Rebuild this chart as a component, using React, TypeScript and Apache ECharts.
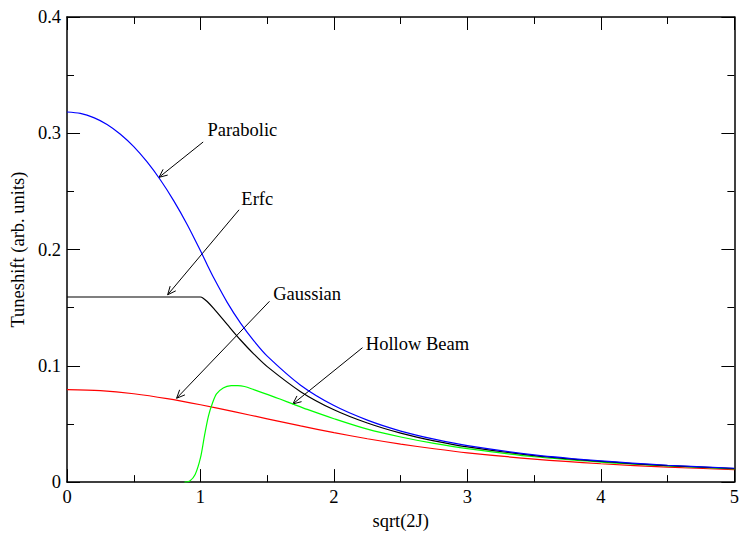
import React, { useEffect, useRef } from "react";
import * as echarts from "echarts";

// ---- data (x = sqrt(2J), y = tuneshift) ----
const xTickValues = [0, 1, 2, 3, 4, 5];
const yTickValues = [0, 0.1, 0.2, 0.3, 0.4];

const parabolic: [number, number][] = [
  [0, 0.3183], [0.1, 0.3171], [0.2, 0.3135], [0.3, 0.3076], [0.4, 0.2992],
  [0.5, 0.2885], [0.6, 0.2753], [0.7, 0.2598], [0.8, 0.2419], [0.9, 0.2216],
  [1.0, 0.1989], [1.05, 0.187], [1.1, 0.1755], [1.2, 0.1546], [1.3, 0.1367],
  [1.4, 0.1214], [1.5, 0.1083], [1.75, 0.0833], [2.0, 0.0658], [2.25, 0.0533],
  [2.5, 0.0439], [2.75, 0.0369], [3.0, 0.0313], [3.5, 0.0234], [4.0, 0.0182],
  [4.5, 0.0145], [5.0, 0.0119],
];

const erfc: [number, number][] = [
  [0, 0.1592], [0.5, 0.1592], [0.9, 0.1592], [1.0, 0.1592], [1.02, 0.1582],
  [1.05, 0.1553], [1.1, 0.1492], [1.2, 0.1356], [1.3, 0.1222], [1.4, 0.1101],
  [1.5, 0.0993], [1.75, 0.0778], [2.0, 0.0622], [2.25, 0.0508], [2.5, 0.0421],
  [2.75, 0.0355], [3.0, 0.0303], [3.5, 0.0228], [4.0, 0.0178], [4.5, 0.0142],
  [5.0, 0.0117],
];

const gaussian: [number, number][] = [
  [0, 0.0796], [0.25, 0.0787], [0.5, 0.076], [0.75, 0.0718], [1.0, 0.0665],
  [1.25, 0.0606], [1.5, 0.0544], [1.75, 0.0483], [2.0, 0.0425], [2.25, 0.0373],
  [2.5, 0.0327], [2.75, 0.0287], [3.0, 0.0252], [3.5, 0.0198], [4.0, 0.0158],
  [4.5, 0.0129], [5.0, 0.0107],
];

const hollowBeam: [number, number][] = [
  [0.88, 0], [0.92, 0.001], [0.96, 0.0065], [1.0, 0.021], [1.03, 0.04],
  [1.06, 0.057], [1.09, 0.068], [1.12, 0.0758], [1.17, 0.081], [1.23, 0.0829],
  [1.28, 0.083], [1.33, 0.0822], [1.4, 0.0795], [1.5, 0.0755], [1.6, 0.0712],
  [1.7, 0.0668], [1.8, 0.0625], [2.0, 0.0545], [2.25, 0.0455], [2.5, 0.0388],
  [2.75, 0.0333], [3.0, 0.0288], [3.5, 0.0218], [4.0, 0.0172], [4.5, 0.0139],
  [5.0, 0.0114],
];

// annotations: label anchor, arrow start, arrow tip (data coordinates)
const annotationLabels = ["Parabolic", "Erfc", "Gaussian", "Hollow Beam"];
const annotationTextAt: [number, number][] = [[1.052, 0.3025], [1.306, 0.2436], [1.545, 0.1617], [2.239, 0.1184]];
const annotationFrom: [number, number][] = [[1.02, 0.2925], [1.289, 0.2342], [1.517, 0.1555], [2.214, 0.1156]];
const annotationTo: [number, number][] = [[0.689, 0.2621], [0.754, 0.1611], [0.821, 0.0721], [1.692, 0.0672]];

const FONT = '"Liberation Serif", "Times New Roman", Times, serif';
const FS = 18.5;

export default function App() {
  const ref = useRef<HTMLDivElement>(null);

  useEffect(() => {
    if (!ref.current) return;
    const chart = echarts.init(ref.current, null, { renderer: "svg" });

    const axisCommon = {
      min: 0,
      axisLine: { show: true, onZero: false, lineStyle: { color: "#000", width: 1.5 } },
      axisTick: { show: true, inside: true, length: 13, lineStyle: { color: "#000", width: 1 } },
      minorTick: { show: true, splitNumber: 2, length: 7, lineStyle: { color: "#000", width: 1 } },
      splitLine: { show: false },
      minorSplitLine: { show: false },
    };

    const lineSeries = (name: string, data: [number, number][], color: string) => ({
      name,
      type: "line",
      data,
      showSymbol: false,
      smooth: 0.3,
      lineStyle: { color, width: 1.2 },
      itemStyle: { color },
      xAxisIndex: 0,
      yAxisIndex: 0,
    });

    chart.setOption({
      animation: false,
      backgroundColor: "#fff",
      grid: { left: 65, right: 7, top: 17, bottom: 49, containLabel: false },
      xAxis: [
        {
          ...axisCommon,
          type: "value",
          position: "bottom",
          max: xTickValues[xTickValues.length - 1],
          interval: 1,
          name: "sqrt(2J)",
          nameLocation: "middle",
          nameGap: 22,
          nameTextStyle: { color: "#000", fontSize: FS, fontFamily: FONT },
          axisLabel: { color: "#000", fontSize: FS, fontFamily: FONT, margin: 5 },
        },
        {
          ...axisCommon,
          type: "value",
          position: "top",
          max: xTickValues[xTickValues.length - 1],
          interval: 1,
          axisLabel: { show: false },
        },
      ],
      yAxis: [
        {
          ...axisCommon,
          type: "value",
          position: "left",
          max: yTickValues[yTickValues.length - 1],
          interval: 0.1,
          name: "Tuneshift (arb. units)",
          nameLocation: "middle",
          nameGap: 35,
          nameTextStyle: { color: "#000", fontSize: FS, fontFamily: FONT },
          axisLabel: {
            color: "#000",
            fontSize: FS,
            fontFamily: FONT,
            margin: 6,
            formatter: (v: number) => (v === 0 ? "0" : v.toFixed(1)),
          },
        },
        {
          ...axisCommon,
          type: "value",
          position: "right",
          max: yTickValues[yTickValues.length - 1],
          interval: 0.1,
          axisLabel: { show: false },
        },
      ],
      series: [
        lineSeries("Gaussian", gaussian, "#ff0000"),
        lineSeries("Hollow Beam", hollowBeam, "#00ff00"),
        lineSeries("Erfc", erfc, "#000000"),
        lineSeries("Parabolic", parabolic, "#0000ff"),
      ],
    });

    const toPx = (p: [number, number]) =>
      chart.convertToPixel({ xAxisIndex: 0, yAxisIndex: 0 }, p) as number[];

    const graphics: any[] = [];
    annotationLabels.forEach((label, i) => {
      const t = toPx(annotationTextAt[i]);
      const a = toPx(annotationFrom[i]);
      const b = toPx(annotationTo[i]);
      const dx = b[0] - a[0];
      const dy = b[1] - a[1];
      const len = Math.sqrt(dx * dx + dy * dy) || 1;
      const ux = dx / len;
      const uy = dy / len;
      const L = 9;
      const ang = (24 * Math.PI) / 180;
      const arm = (s: number) => {
        const c = Math.cos(s * ang);
        const sn = Math.sin(s * ang);
        const rx = ux * c - uy * sn;
        const ry = ux * sn + uy * c;
        return [b[0] - L * rx, b[1] - L * ry];
      };
      graphics.push({
        type: "line",
        silent: true,
        shape: { x1: a[0], y1: a[1], x2: b[0], y2: b[1] },
        style: { stroke: "#000", lineWidth: 1 },
      });
      graphics.push({
        type: "polyline",
        silent: true,
        shape: { points: [arm(1), [b[0], b[1]], arm(-1)] },
        style: { stroke: "#000", fill: "none", lineWidth: 1 },
      });
      graphics.push({
        type: "text",
        silent: true,
        x: t[0],
        y: t[1],
        style: {
          text: label,
          fill: "#000",
          fontSize: FS,
          fontFamily: FONT,
          align: "left",
          verticalAlign: "middle",
        },
      });
    });
    chart.setOption({ graphic: graphics });

    return () => chart.dispose();
  }, []);

  return (
    <div
      ref={ref}
      style={{ position: "fixed", left: 0, top: 0, width: 742, height: 535, background: "#fff" }}
    />
  );
}
